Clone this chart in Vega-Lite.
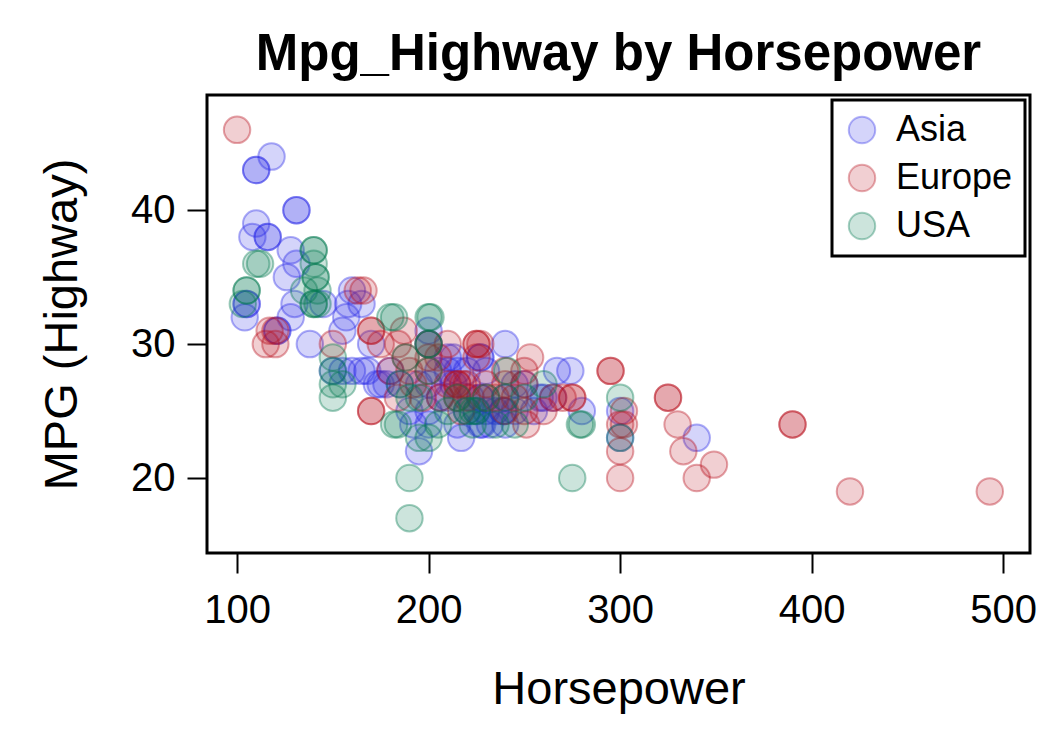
{
  "$schema": "https://vega.github.io/schema/vega-lite/v6.json",
  "autosize": {"type": "none"},
  "width": 823,
  "height": 458,
  "padding": {"left": 207, "top": 95, "right": 30, "bottom": 177},
  "background": "white",
  "title": {"text": "Mpg_Highway by Horsepower", "fontSize": 51, "font": "Liberation Sans", "fontWeight": "bold", "color": "black", "anchor": "middle", "offset": 14},
  "config": {
    "view": {"stroke": "black", "strokeWidth": 3},
    "axis": {"domain": false, "grid": false, "tickColor": "black", "tickWidth": 2, "tickSize": 20, "labelFont": "Liberation Sans", "labelFontSize": 40, "labelColor": "black", "titleFont": "Liberation Sans", "titleFontSize": 47, "titleFontWeight": "normal", "titleColor": "black"},
    "legend": {"strokeColor": "black", "strokeWidth": 3, "padding": 12, "labelFont": "Liberation Sans", "labelFontSize": 36, "labelColor": "black", "symbolSize": 700, "symbolStrokeWidth": 2, "rowPadding": 12, "labelOffset": 16}
  },
  "data": {"values": [
    {"Horsepower": 110, "MPG_Highway": 43, "Origin": "Asia"},
    {"Horsepower": 110, "MPG_Highway": 43, "Origin": "Asia"},
    {"Horsepower": 118, "MPG_Highway": 44, "Origin": "Asia"},
    {"Horsepower": 110, "MPG_Highway": 39, "Origin": "Asia"},
    {"Horsepower": 108, "MPG_Highway": 38, "Origin": "Asia"},
    {"Horsepower": 116, "MPG_Highway": 38, "Origin": "Asia"},
    {"Horsepower": 116, "MPG_Highway": 38, "Origin": "Asia"},
    {"Horsepower": 128, "MPG_Highway": 37, "Origin": "Asia"},
    {"Horsepower": 126, "MPG_Highway": 35, "Origin": "Asia"},
    {"Horsepower": 131, "MPG_Highway": 40, "Origin": "Asia"},
    {"Horsepower": 131, "MPG_Highway": 40, "Origin": "Asia"},
    {"Horsepower": 131, "MPG_Highway": 36, "Origin": "Asia"},
    {"Horsepower": 105, "MPG_Highway": 33, "Origin": "Asia"},
    {"Horsepower": 105, "MPG_Highway": 33, "Origin": "Asia"},
    {"Horsepower": 104, "MPG_Highway": 32, "Origin": "Asia"},
    {"Horsepower": 121, "MPG_Highway": 31, "Origin": "Asia"},
    {"Horsepower": 121, "MPG_Highway": 31, "Origin": "Asia"},
    {"Horsepower": 128, "MPG_Highway": 32, "Origin": "Asia"},
    {"Horsepower": 130, "MPG_Highway": 33, "Origin": "Asia"},
    {"Horsepower": 138, "MPG_Highway": 30, "Origin": "Asia"},
    {"Horsepower": 160, "MPG_Highway": 34, "Origin": "Asia"},
    {"Horsepower": 158, "MPG_Highway": 33, "Origin": "Asia"},
    {"Horsepower": 157, "MPG_Highway": 32, "Origin": "Asia"},
    {"Horsepower": 155, "MPG_Highway": 31, "Origin": "Asia"},
    {"Horsepower": 165, "MPG_Highway": 28, "Origin": "Asia"},
    {"Horsepower": 168, "MPG_Highway": 28, "Origin": "Asia"},
    {"Horsepower": 173, "MPG_Highway": 27, "Origin": "Asia"},
    {"Horsepower": 175, "MPG_Highway": 27, "Origin": "Asia"},
    {"Horsepower": 178, "MPG_Highway": 27, "Origin": "Asia"},
    {"Horsepower": 200, "MPG_Highway": 31, "Origin": "Asia"},
    {"Horsepower": 200, "MPG_Highway": 30, "Origin": "Asia"},
    {"Horsepower": 210, "MPG_Highway": 29, "Origin": "Asia"},
    {"Horsepower": 213, "MPG_Highway": 29, "Origin": "Asia"},
    {"Horsepower": 227, "MPG_Highway": 29, "Origin": "Asia"},
    {"Horsepower": 227, "MPG_Highway": 29, "Origin": "Asia"},
    {"Horsepower": 220, "MPG_Highway": 28, "Origin": "Asia"},
    {"Horsepower": 215, "MPG_Highway": 24, "Origin": "Asia"},
    {"Horsepower": 227, "MPG_Highway": 24, "Origin": "Asia"},
    {"Horsepower": 228, "MPG_Highway": 24, "Origin": "Asia"},
    {"Horsepower": 240, "MPG_Highway": 30, "Origin": "Asia"},
    {"Horsepower": 239, "MPG_Highway": 25, "Origin": "Asia"},
    {"Horsepower": 239, "MPG_Highway": 25, "Origin": "Asia"},
    {"Horsepower": 267, "MPG_Highway": 28, "Origin": "Asia"},
    {"Horsepower": 274, "MPG_Highway": 28, "Origin": "Asia"},
    {"Horsepower": 260, "MPG_Highway": 26, "Origin": "Asia"},
    {"Horsepower": 258, "MPG_Highway": 26, "Origin": "Asia"},
    {"Horsepower": 200, "MPG_Highway": 25, "Origin": "Asia"},
    {"Horsepower": 195, "MPG_Highway": 22, "Origin": "Asia"},
    {"Horsepower": 340, "MPG_Highway": 23, "Origin": "Asia"},
    {"Horsepower": 300, "MPG_Highway": 23, "Origin": "Asia"},
    {"Horsepower": 227, "MPG_Highway": 26, "Origin": "Asia"},
    {"Horsepower": 227, "MPG_Highway": 26, "Origin": "Asia"},
    {"Horsepower": 206, "MPG_Highway": 26, "Origin": "Asia"},
    {"Horsepower": 200, "MPG_Highway": 27, "Origin": "Asia"},
    {"Horsepower": 190, "MPG_Highway": 25, "Origin": "Asia"},
    {"Horsepower": 210, "MPG_Highway": 26, "Origin": "Asia"},
    {"Horsepower": 220, "MPG_Highway": 25, "Origin": "Asia"},
    {"Horsepower": 230, "MPG_Highway": 25, "Origin": "Asia"},
    {"Horsepower": 245, "MPG_Highway": 25, "Origin": "Asia"},
    {"Horsepower": 235, "MPG_Highway": 25, "Origin": "Asia"},
    {"Horsepower": 225, "MPG_Highway": 25, "Origin": "Asia"},
    {"Horsepower": 192, "MPG_Highway": 24, "Origin": "Asia"},
    {"Horsepower": 200, "MPG_Highway": 24, "Origin": "Asia"},
    {"Horsepower": 255, "MPG_Highway": 25, "Origin": "Asia"},
    {"Horsepower": 245, "MPG_Highway": 27, "Origin": "Asia"},
    {"Horsepower": 265, "MPG_Highway": 26, "Origin": "Asia"},
    {"Horsepower": 280, "MPG_Highway": 25, "Origin": "Asia"},
    {"Horsepower": 300, "MPG_Highway": 25, "Origin": "Asia"},
    {"Horsepower": 150, "MPG_Highway": 28, "Origin": "Asia"},
    {"Horsepower": 160, "MPG_Highway": 28, "Origin": "Asia"},
    {"Horsepower": 170, "MPG_Highway": 30, "Origin": "Asia"},
    {"Horsepower": 180, "MPG_Highway": 28, "Origin": "Asia"},
    {"Horsepower": 185, "MPG_Highway": 27, "Origin": "Asia"},
    {"Horsepower": 195, "MPG_Highway": 27, "Origin": "Asia"},
    {"Horsepower": 205, "MPG_Highway": 28, "Origin": "Asia"},
    {"Horsepower": 215, "MPG_Highway": 28, "Origin": "Asia"},
    {"Horsepower": 230, "MPG_Highway": 28, "Origin": "Asia"},
    {"Horsepower": 165, "MPG_Highway": 33, "Origin": "Asia"},
    {"Horsepower": 145, "MPG_Highway": 33, "Origin": "Asia"},
    {"Horsepower": 155, "MPG_Highway": 28, "Origin": "Asia"},
    {"Horsepower": 240, "MPG_Highway": 26, "Origin": "Asia"},
    {"Horsepower": 250, "MPG_Highway": 27, "Origin": "Asia"},
    {"Horsepower": 217, "MPG_Highway": 23, "Origin": "Asia"},
    {"Horsepower": 213, "MPG_Highway": 27, "Origin": "Asia"},
    {"Horsepower": 222, "MPG_Highway": 26, "Origin": "Asia"},
    {"Horsepower": 240, "MPG_Highway": 24, "Origin": "Asia"},
    {"Horsepower": 232, "MPG_Highway": 24, "Origin": "Asia"},
    {"Horsepower": 210, "MPG_Highway": 28, "Origin": "Asia"},
    {"Horsepower": 100, "MPG_Highway": 46, "Origin": "Europe"},
    {"Horsepower": 115, "MPG_Highway": 30, "Origin": "Europe"},
    {"Horsepower": 117, "MPG_Highway": 31, "Origin": "Europe"},
    {"Horsepower": 120, "MPG_Highway": 31, "Origin": "Europe"},
    {"Horsepower": 120, "MPG_Highway": 30, "Origin": "Europe"},
    {"Horsepower": 163, "MPG_Highway": 34, "Origin": "Europe"},
    {"Horsepower": 166, "MPG_Highway": 34, "Origin": "Europe"},
    {"Horsepower": 150, "MPG_Highway": 30, "Origin": "Europe"},
    {"Horsepower": 170, "MPG_Highway": 31, "Origin": "Europe"},
    {"Horsepower": 170, "MPG_Highway": 31, "Origin": "Europe"},
    {"Horsepower": 187, "MPG_Highway": 31, "Origin": "Europe"},
    {"Horsepower": 184, "MPG_Highway": 30, "Origin": "Europe"},
    {"Horsepower": 188, "MPG_Highway": 29, "Origin": "Europe"},
    {"Horsepower": 170, "MPG_Highway": 25, "Origin": "Europe"},
    {"Horsepower": 170, "MPG_Highway": 25, "Origin": "Europe"},
    {"Horsepower": 175, "MPG_Highway": 30, "Origin": "Europe"},
    {"Horsepower": 192, "MPG_Highway": 27, "Origin": "Europe"},
    {"Horsepower": 200, "MPG_Highway": 30, "Origin": "Europe"},
    {"Horsepower": 200, "MPG_Highway": 29, "Origin": "Europe"},
    {"Horsepower": 200, "MPG_Highway": 28, "Origin": "Europe"},
    {"Horsepower": 225, "MPG_Highway": 30, "Origin": "Europe"},
    {"Horsepower": 225, "MPG_Highway": 30, "Origin": "Europe"},
    {"Horsepower": 225, "MPG_Highway": 29, "Origin": "Europe"},
    {"Horsepower": 227, "MPG_Highway": 30, "Origin": "Europe"},
    {"Horsepower": 253, "MPG_Highway": 29, "Origin": "Europe"},
    {"Horsepower": 250, "MPG_Highway": 28, "Origin": "Europe"},
    {"Horsepower": 250, "MPG_Highway": 27, "Origin": "Europe"},
    {"Horsepower": 215, "MPG_Highway": 27, "Origin": "Europe"},
    {"Horsepower": 215, "MPG_Highway": 27, "Origin": "Europe"},
    {"Horsepower": 215, "MPG_Highway": 26, "Origin": "Europe"},
    {"Horsepower": 206, "MPG_Highway": 26, "Origin": "Europe"},
    {"Horsepower": 210, "MPG_Highway": 27, "Origin": "Europe"},
    {"Horsepower": 220, "MPG_Highway": 27, "Origin": "Europe"},
    {"Horsepower": 230, "MPG_Highway": 27, "Origin": "Europe"},
    {"Horsepower": 240, "MPG_Highway": 27, "Origin": "Europe"},
    {"Horsepower": 240, "MPG_Highway": 28, "Origin": "Europe"},
    {"Horsepower": 245, "MPG_Highway": 26, "Origin": "Europe"},
    {"Horsepower": 270, "MPG_Highway": 26, "Origin": "Europe"},
    {"Horsepower": 275, "MPG_Highway": 26, "Origin": "Europe"},
    {"Horsepower": 275, "MPG_Highway": 26, "Origin": "Europe"},
    {"Horsepower": 295, "MPG_Highway": 28, "Origin": "Europe"},
    {"Horsepower": 295, "MPG_Highway": 28, "Origin": "Europe"},
    {"Horsepower": 300, "MPG_Highway": 24, "Origin": "Europe"},
    {"Horsepower": 302, "MPG_Highway": 24, "Origin": "Europe"},
    {"Horsepower": 302, "MPG_Highway": 25, "Origin": "Europe"},
    {"Horsepower": 300, "MPG_Highway": 22, "Origin": "Europe"},
    {"Horsepower": 300, "MPG_Highway": 20, "Origin": "Europe"},
    {"Horsepower": 325, "MPG_Highway": 26, "Origin": "Europe"},
    {"Horsepower": 325, "MPG_Highway": 26, "Origin": "Europe"},
    {"Horsepower": 330, "MPG_Highway": 24, "Origin": "Europe"},
    {"Horsepower": 333, "MPG_Highway": 22, "Origin": "Europe"},
    {"Horsepower": 349, "MPG_Highway": 21, "Origin": "Europe"},
    {"Horsepower": 340, "MPG_Highway": 20, "Origin": "Europe"},
    {"Horsepower": 390, "MPG_Highway": 24, "Origin": "Europe"},
    {"Horsepower": 390, "MPG_Highway": 24, "Origin": "Europe"},
    {"Horsepower": 420, "MPG_Highway": 19, "Origin": "Europe"},
    {"Horsepower": 493, "MPG_Highway": 19, "Origin": "Europe"},
    {"Horsepower": 251, "MPG_Highway": 24, "Origin": "Europe"},
    {"Horsepower": 250, "MPG_Highway": 25, "Origin": "Europe"},
    {"Horsepower": 260, "MPG_Highway": 25, "Origin": "Europe"},
    {"Horsepower": 265, "MPG_Highway": 26, "Origin": "Europe"},
    {"Horsepower": 180, "MPG_Highway": 28, "Origin": "Europe"},
    {"Horsepower": 190, "MPG_Highway": 28, "Origin": "Europe"},
    {"Horsepower": 205, "MPG_Highway": 29, "Origin": "Europe"},
    {"Horsepower": 210, "MPG_Highway": 30, "Origin": "Europe"},
    {"Horsepower": 235, "MPG_Highway": 26, "Origin": "Europe"},
    {"Horsepower": 230, "MPG_Highway": 26, "Origin": "Europe"},
    {"Horsepower": 217, "MPG_Highway": 25, "Origin": "Europe"},
    {"Horsepower": 240, "MPG_Highway": 25, "Origin": "Europe"},
    {"Horsepower": 184, "MPG_Highway": 26, "Origin": "Europe"},
    {"Horsepower": 197, "MPG_Highway": 26, "Origin": "Europe"},
    {"Horsepower": 218, "MPG_Highway": 27, "Origin": "Europe"},
    {"Horsepower": 220, "MPG_Highway": 26, "Origin": "Europe"},
    {"Horsepower": 140, "MPG_Highway": 37, "Origin": "USA"},
    {"Horsepower": 140, "MPG_Highway": 37, "Origin": "USA"},
    {"Horsepower": 141, "MPG_Highway": 35, "Origin": "USA"},
    {"Horsepower": 141, "MPG_Highway": 35, "Origin": "USA"},
    {"Horsepower": 142, "MPG_Highway": 34, "Origin": "USA"},
    {"Horsepower": 140, "MPG_Highway": 33, "Origin": "USA"},
    {"Horsepower": 140, "MPG_Highway": 33, "Origin": "USA"},
    {"Horsepower": 140, "MPG_Highway": 36, "Origin": "USA"},
    {"Horsepower": 135, "MPG_Highway": 34, "Origin": "USA"},
    {"Horsepower": 112, "MPG_Highway": 36, "Origin": "USA"},
    {"Horsepower": 110, "MPG_Highway": 36, "Origin": "USA"},
    {"Horsepower": 105, "MPG_Highway": 34, "Origin": "USA"},
    {"Horsepower": 105, "MPG_Highway": 34, "Origin": "USA"},
    {"Horsepower": 103, "MPG_Highway": 33, "Origin": "USA"},
    {"Horsepower": 142, "MPG_Highway": 33, "Origin": "USA"},
    {"Horsepower": 150, "MPG_Highway": 29, "Origin": "USA"},
    {"Horsepower": 150, "MPG_Highway": 28, "Origin": "USA"},
    {"Horsepower": 150, "MPG_Highway": 27, "Origin": "USA"},
    {"Horsepower": 150, "MPG_Highway": 26, "Origin": "USA"},
    {"Horsepower": 155, "MPG_Highway": 27, "Origin": "USA"},
    {"Horsepower": 182, "MPG_Highway": 32, "Origin": "USA"},
    {"Horsepower": 180, "MPG_Highway": 32, "Origin": "USA"},
    {"Horsepower": 200, "MPG_Highway": 32, "Origin": "USA"},
    {"Horsepower": 201, "MPG_Highway": 32, "Origin": "USA"},
    {"Horsepower": 200, "MPG_Highway": 30, "Origin": "USA"},
    {"Horsepower": 200, "MPG_Highway": 30, "Origin": "USA"},
    {"Horsepower": 188, "MPG_Highway": 29, "Origin": "USA"},
    {"Horsepower": 185, "MPG_Highway": 27, "Origin": "USA"},
    {"Horsepower": 184, "MPG_Highway": 24, "Origin": "USA"},
    {"Horsepower": 182, "MPG_Highway": 24, "Origin": "USA"},
    {"Horsepower": 195, "MPG_Highway": 23, "Origin": "USA"},
    {"Horsepower": 200, "MPG_Highway": 23, "Origin": "USA"},
    {"Horsepower": 190, "MPG_Highway": 20, "Origin": "USA"},
    {"Horsepower": 190, "MPG_Highway": 17, "Origin": "USA"},
    {"Horsepower": 241, "MPG_Highway": 28, "Origin": "USA"},
    {"Horsepower": 223, "MPG_Highway": 25, "Origin": "USA"},
    {"Horsepower": 223, "MPG_Highway": 24, "Origin": "USA"},
    {"Horsepower": 220, "MPG_Highway": 25, "Origin": "USA"},
    {"Horsepower": 235, "MPG_Highway": 24, "Origin": "USA"},
    {"Horsepower": 279, "MPG_Highway": 24, "Origin": "USA"},
    {"Horsepower": 280, "MPG_Highway": 24, "Origin": "USA"},
    {"Horsepower": 300, "MPG_Highway": 26, "Origin": "USA"},
    {"Horsepower": 275, "MPG_Highway": 20, "Origin": "USA"},
    {"Horsepower": 300, "MPG_Highway": 23, "Origin": "USA"},
    {"Horsepower": 260, "MPG_Highway": 27, "Origin": "USA"},
    {"Horsepower": 210, "MPG_Highway": 25, "Origin": "USA"},
    {"Horsepower": 205, "MPG_Highway": 24, "Origin": "USA"},
    {"Horsepower": 215, "MPG_Highway": 26, "Origin": "USA"},
    {"Horsepower": 230, "MPG_Highway": 26, "Origin": "USA"},
    {"Horsepower": 200, "MPG_Highway": 28, "Origin": "USA"},
    {"Horsepower": 190, "MPG_Highway": 26, "Origin": "USA"},
    {"Horsepower": 195, "MPG_Highway": 26, "Origin": "USA"},
    {"Horsepower": 245, "MPG_Highway": 24, "Origin": "USA"},
    {"Horsepower": 240, "MPG_Highway": 26, "Origin": "USA"},
    {"Horsepower": 250, "MPG_Highway": 26, "Origin": "USA"},
    {"Horsepower": 225, "MPG_Highway": 25, "Origin": "USA"}
  ]},
  "mark": {"type": "point", "shape": "circle", "size": 700, "filled": false, "fillOpacity": 0.2, "strokeOpacity": 0.38, "strokeWidth": 2},
  "encoding": {
    "x": {"field": "Horsepower", "type": "quantitative", "scale": {"domain": [84.3, 514], "nice": false, "zero": false}, "axis": {"values": [100, 200, 300, 400, 500], "labelPadding": 17, "titlePadding": 36}},
    "y": {"field": "MPG_Highway", "type": "quantitative", "title": "MPG (Highway)", "scale": {"domain": [14.4, 48.6], "nice": false, "zero": false}, "axis": {"values": [20, 30, 40], "labelPadding": 12, "titlePadding": 44}},
    "fill": {"field": "Origin", "type": "nominal", "scale": {"domain": ["Asia", "Europe", "USA"], "range": ["#2828e8", "#b8101e", "#007850"]}, "legend": {"title": null, "orient": "top-right", "offset": 5, "encode": {"symbols": {"update": {"fillOpacity": {"value": 0.2}, "strokeOpacity": {"value": 0.35}}}}}},
    "stroke": {"field": "Origin", "type": "nominal", "scale": {"domain": ["Asia", "Europe", "USA"], "range": ["#2828e8", "#b8101e", "#007850"]}, "legend": {"title": null, "orient": "top-right", "offset": 5, "encode": {"symbols": {"update": {"fillOpacity": {"value": 0.2}, "strokeOpacity": {"value": 0.35}}}}}}
  }
}
